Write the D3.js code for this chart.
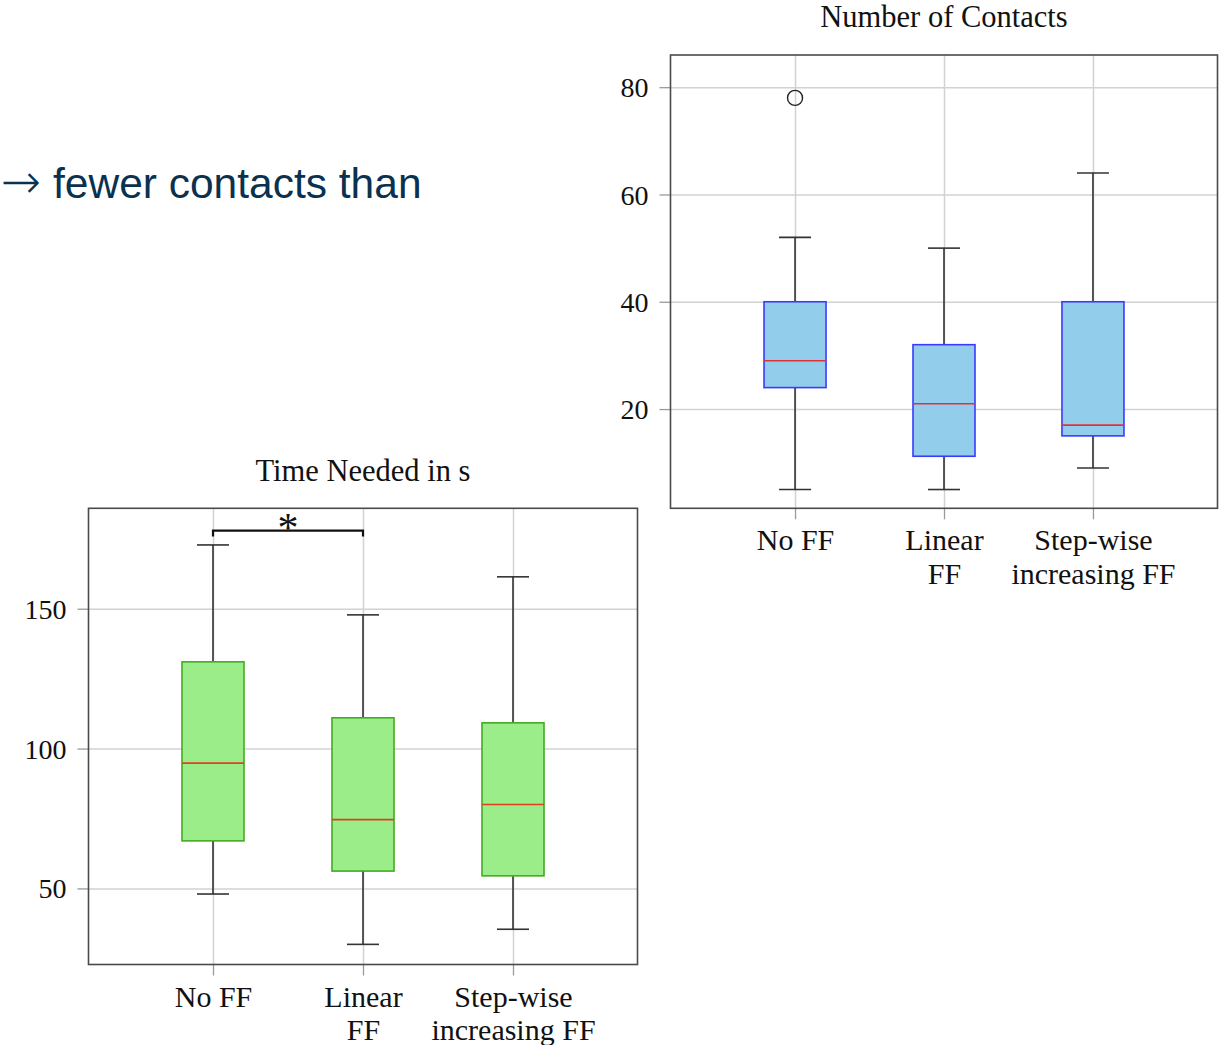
<!DOCTYPE html>
<html>
<head>
<meta charset="utf-8">
<script src="https://cdn.jsdelivr.net/npm/d3@7"></script>
<style>
  html, body { margin: 0; padding: 0; background: #fff; }
  svg { display: block; }
</style>
</head>
<body>
<svg id="chart" width="1225" height="1045"></svg>
<script>
// ---------- DATA ----------
const categories = ["No FF", "Linear FF", "Step-wise increasing FF"];
const categoryLabelLines = [["No FF"], ["Linear", "FF"], ["Step-wise", "increasing FF"]];

// Number of Contacts
const contactsLowerWhisker = [5, 5, 9];
const contactsQ1 = [24, 11.2, 15];
const contactsMedian = [29, 21, 17];
const contactsQ3 = [40, 32, 40];
const contactsUpperWhisker = [52, 50, 64];
const contactsOutliers = [[78], [], []];
const contactsTicks = [20, 40, 60, 80];
const contactsDomain = [1.5, 86];

// Time Needed in s
const timeLowerWhisker = [48, 30, 35.4];
const timeQ1 = [67, 56.2, 54.5];
const timeMedian = [94.8, 74.6, 80];
const timeQ3 = [131, 111, 109.2];
const timeUpperWhisker = [172.8, 147.8, 161.4];
const timeOutliers = [[], [], []];
const timeTicks = [50, 100, 150];
const timeDomain = [22.8, 185.9];
const timeSignificance = [{ from: 0, to: 1, at: 177.9, drop: 2.1, label: "*" }];

const annotationArrow = "→";
const annotationText = "fewer contacts than";

// ---------- DRAW ----------
const svg = d3.select("#chart");
const serif = "'Liberation Serif', 'Times New Roman', serif";

function boxPlot(cfg) {
  const g = svg.append("g");
  const x = d3.scalePoint().domain(categories).range([cfg.left, cfg.right]).padding(cfg.pad);
  const y = d3.scaleLinear().domain(cfg.domain).range([cfg.bottom, cfg.top]);
  const w = cfg.right - cfg.left, h = cfg.bottom - cfg.top;

  // gridlines
  g.append("g").attr("transform", `translate(${cfg.left},0)`)
    .call(d3.axisLeft(y).tickValues(cfg.ticks).tickSize(-w).tickFormat(""))
    .call(a => a.select(".domain").remove())
    .call(a => a.selectAll("line").attr("stroke", "#d2d2d2").attr("stroke-width", 1.5));
  g.append("g").attr("transform", `translate(0,${cfg.top})`)
    .call(d3.axisBottom(x).tickSize(h).tickFormat(""))
    .call(a => a.select(".domain").remove())
    .call(a => a.selectAll("line").attr("stroke", "#d2d2d2").attr("stroke-width", 1.5));

  // y axis
  g.append("g").attr("transform", `translate(${cfg.left},0)`)
    .call(d3.axisLeft(y).tickValues(cfg.ticks).tickSize(11).tickPadding(11))
    .call(a => a.select(".domain").remove())
    .call(a => a.selectAll("line").attr("stroke", "#9a9a9a").attr("stroke-width", 1.3))
    .call(a => a.selectAll("text").attr("font-family", serif).attr("font-size", 28).attr("fill", "#111").attr("dy", "0.34em"));

  // x axis
  const xa = g.append("g").attr("transform", `translate(0,${cfg.bottom})`)
    .call(d3.axisBottom(x).tickSize(11).tickFormat(""))
    .call(a => a.select(".domain").remove())
    .call(a => a.selectAll("line").attr("stroke", "#9a9a9a").attr("stroke-width", 1.3));
  xa.selectAll(".tick").each(function(d, i) {
    const t = d3.select(this).append("text")
      .attr("font-family", serif).attr("font-size", 30).attr("fill", "#111")
      .attr("text-anchor", "middle");
    categoryLabelLines[i].forEach((line, j) => {
      t.append("tspan").attr("x", 0).attr("y", 42 + j * 33.5).text(line);
    });
  });

  // boxes
  const half = 31, capHalf = 16;
  categories.forEach((c, i) => {
    const cx = x(c);
    const bg = g.append("g");
    bg.append("line").attr("x1", cx).attr("x2", cx)
      .attr("y1", y(cfg.q3[i])).attr("y2", y(cfg.upper[i]))
      .attr("stroke", "#333").attr("stroke-width", 1.6);
    bg.append("line").attr("x1", cx).attr("x2", cx)
      .attr("y1", y(cfg.q1[i])).attr("y2", y(cfg.lower[i]))
      .attr("stroke", "#333").attr("stroke-width", 1.6);
    bg.append("line").attr("x1", cx - capHalf).attr("x2", cx + capHalf)
      .attr("y1", y(cfg.upper[i])).attr("y2", y(cfg.upper[i]))
      .attr("stroke", "#333").attr("stroke-width", 1.6);
    bg.append("line").attr("x1", cx - capHalf).attr("x2", cx + capHalf)
      .attr("y1", y(cfg.lower[i])).attr("y2", y(cfg.lower[i]))
      .attr("stroke", "#333").attr("stroke-width", 1.6);
    bg.append("rect").attr("x", cx - half).attr("width", 2 * half)
      .attr("y", y(cfg.q3[i])).attr("height", y(cfg.q1[i]) - y(cfg.q3[i]))
      .attr("fill", cfg.fill).attr("stroke", cfg.stroke).attr("stroke-width", 1.6);
    bg.append("line").attr("x1", cx - half).attr("x2", cx + half)
      .attr("y1", y(cfg.median[i])).attr("y2", y(cfg.median[i]))
      .attr("stroke", cfg.medianColor).attr("stroke-width", 1.6);
    cfg.outliers[i].forEach(o => {
      bg.append("circle").attr("cx", cx).attr("cy", y(o)).attr("r", 7.5)
        .attr("fill", "none").attr("stroke", "#222").attr("stroke-width", 1.4);
    });
  });

  // significance brackets
  (cfg.sig || []).forEach(s => {
    const x1 = x(categories[s.from]), x2 = x(categories[s.to]);
    g.append("path")
      .attr("d", `M${x1},${y(s.at - s.drop)} V${y(s.at)} H${x2} V${y(s.at - s.drop)}`)
      .attr("fill", "none").attr("stroke", "#111").attr("stroke-width", 2.2);
    g.append("text").attr("x", (x1 + x2) / 2).attr("y", y(s.at) + 11)
      .attr("text-anchor", "middle").attr("font-family", serif).attr("font-size", 42)
      .attr("fill", "#111").text(s.label);
  });

  // frame
  g.append("rect").attr("x", cfg.left).attr("y", cfg.top).attr("width", w).attr("height", h)
    .attr("fill", "none").attr("stroke", "#4a4a4a").attr("stroke-width", 1.6);

  // title
  g.append("text").attr("x", (cfg.left + cfg.right) / 2).attr("y", cfg.titleY)
    .attr("text-anchor", "middle").attr("font-family", serif).attr("font-size", 30.5)
    .attr("fill", "#111").text(cfg.title);
}

boxPlot({
  left: 670.5, right: 1217.5, top: 55, bottom: 508.3, pad: 0.836,
  domain: contactsDomain, ticks: contactsTicks,
  lower: contactsLowerWhisker, q1: contactsQ1, median: contactsMedian, q3: contactsQ3,
  upper: contactsUpperWhisker, outliers: contactsOutliers,
  fill: "#92ceeb", stroke: "#3a3aff", medianColor: "#e0303a",
  title: "Number of Contacts", titleY: 27
});

boxPlot({
  left: 88.5, right: 637.5, top: 508.3, bottom: 964.5, pad: 0.83,
  domain: timeDomain, ticks: timeTicks,
  lower: timeLowerWhisker, q1: timeQ1, median: timeMedian, q3: timeQ3,
  upper: timeUpperWhisker, outliers: timeOutliers, sig: timeSignificance,
  fill: "#9bed8a", stroke: "#44aa22", medianColor: "#e0401e",
  title: "Time Needed in s", titleY: 481
});

// annotation text (partial slide text)
svg.append("text").attr("x", 41).attr("y", 198).attr("text-anchor", "end")
  .attr("font-family", "'DejaVu Sans', sans-serif").attr("font-size", 48)
  .attr("font-weight", 300)
  .attr("fill", "#0b3150").text(annotationArrow);
svg.append("text").attr("x", 53).attr("y", 198)
  .attr("font-family", "'Liberation Sans', Arial, sans-serif").attr("font-size", 42.5)
  .attr("fill", "#0b3150").text(annotationText);
</script>
</body>
</html>
